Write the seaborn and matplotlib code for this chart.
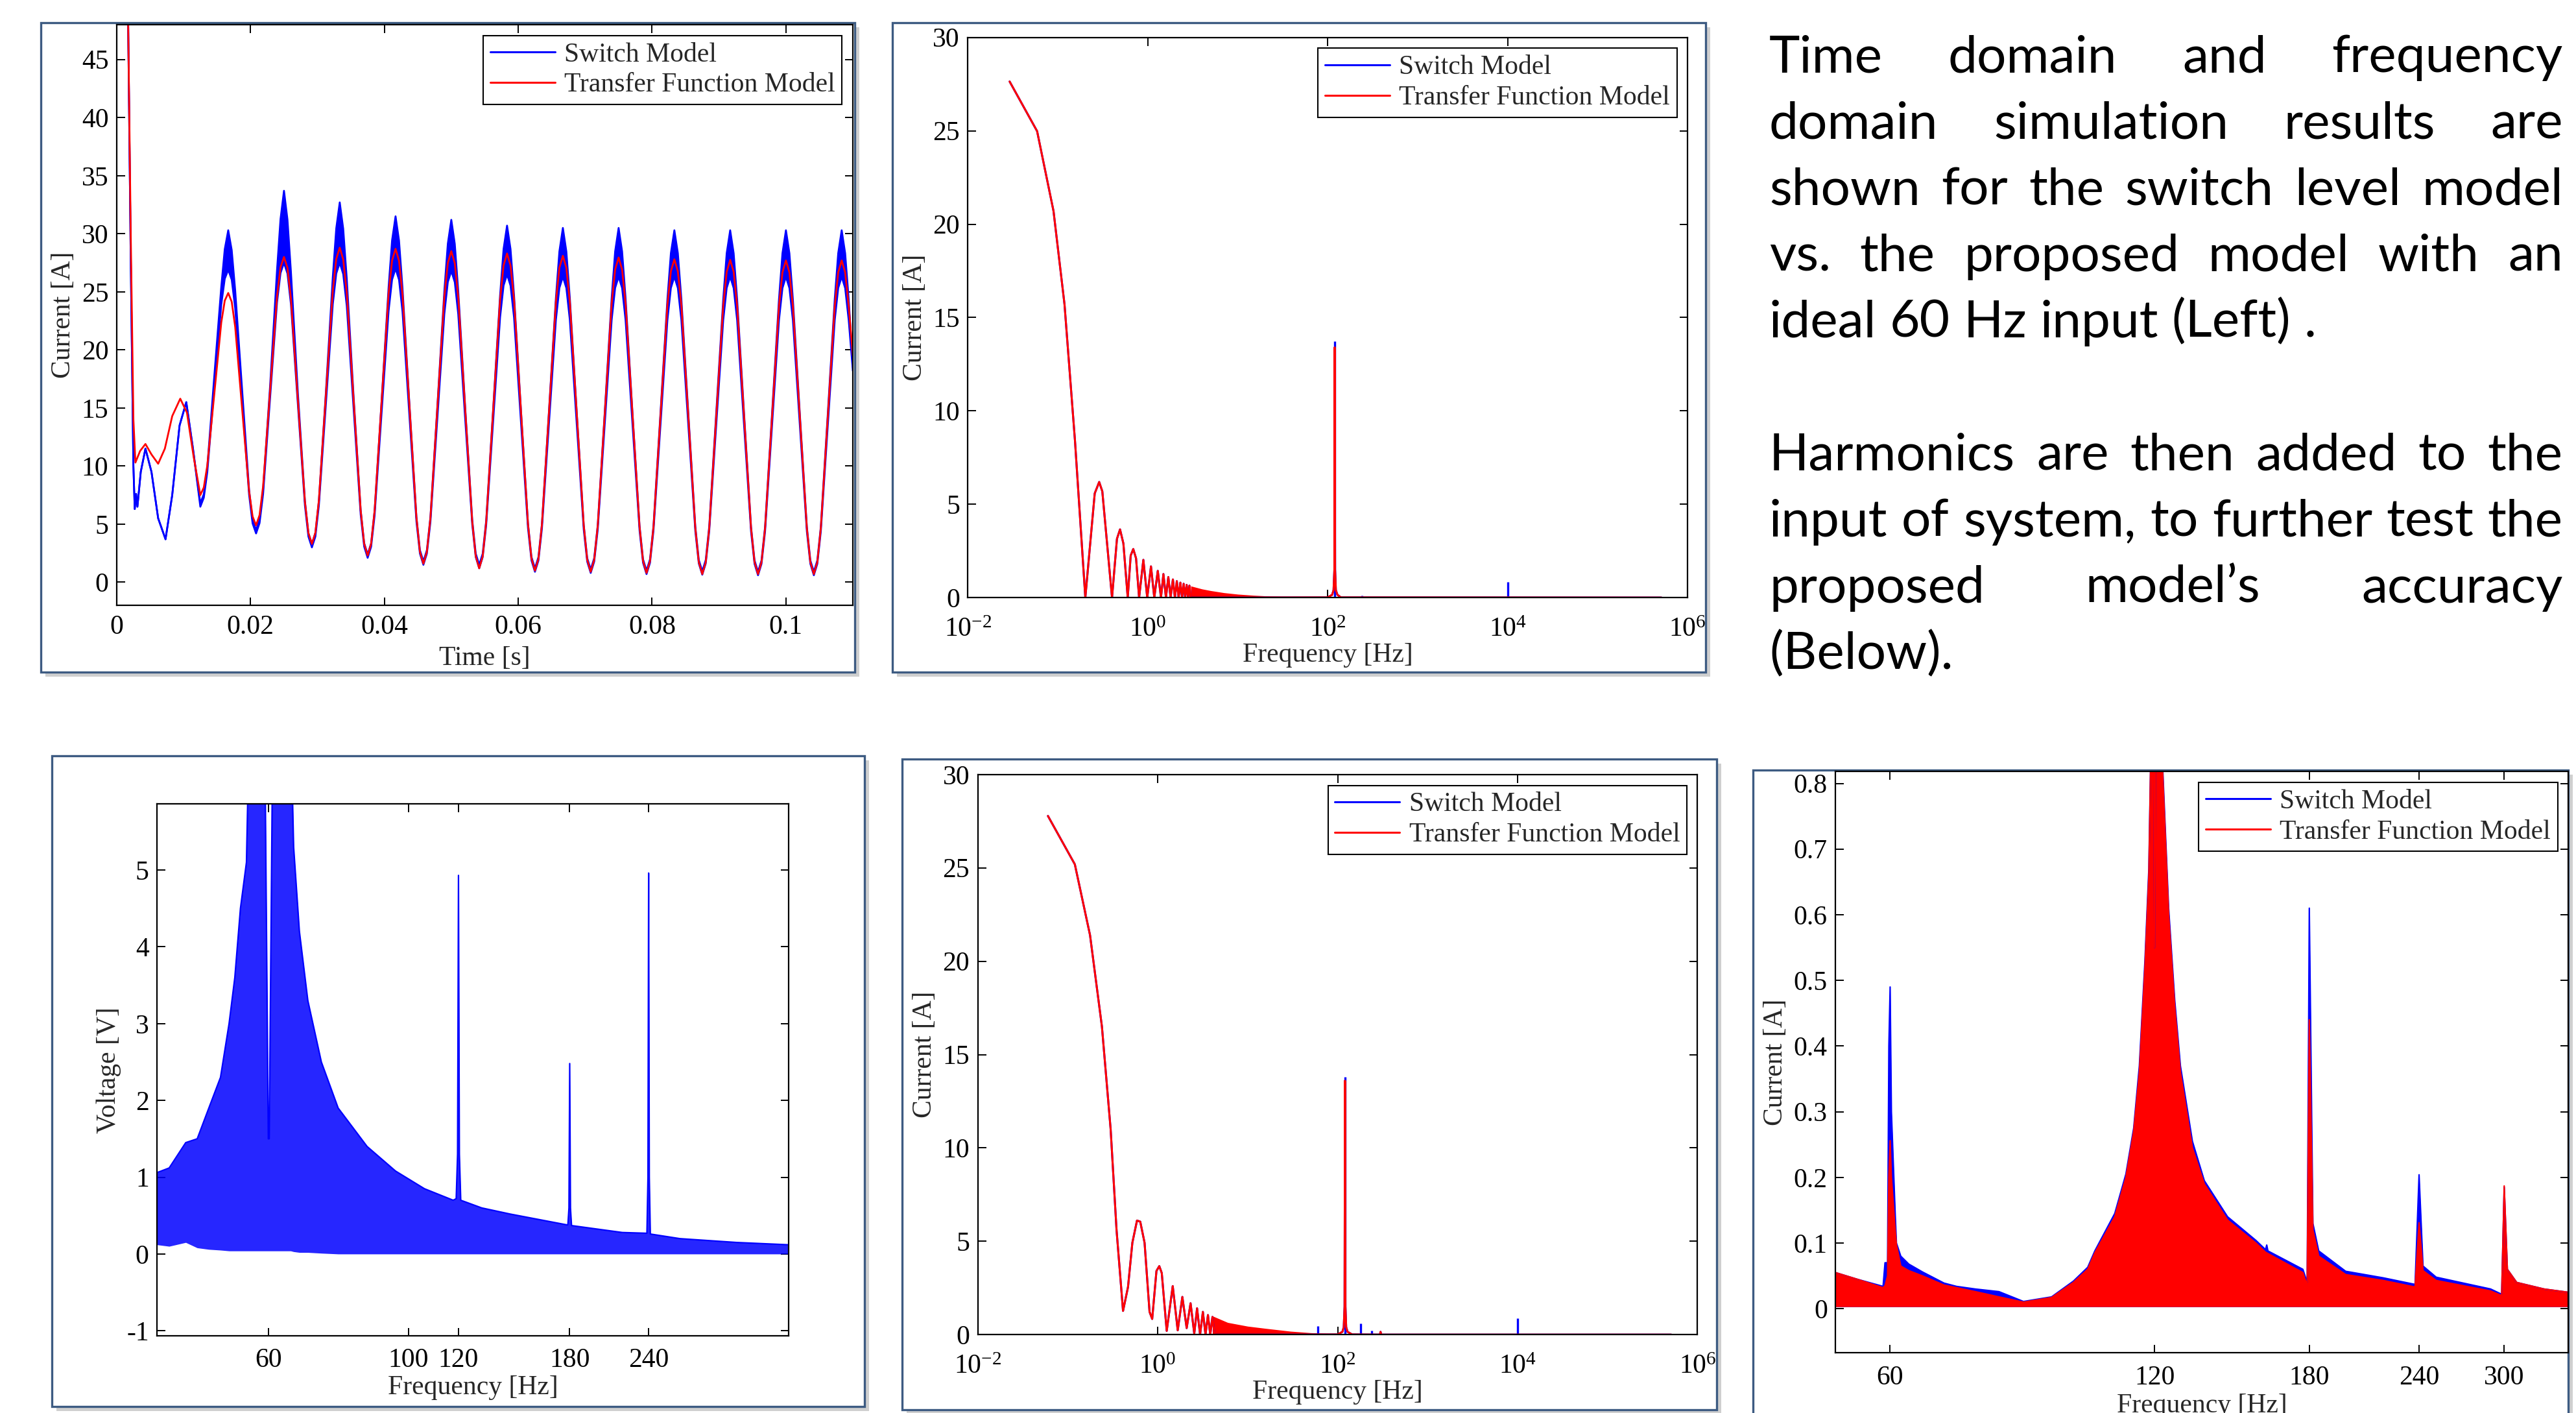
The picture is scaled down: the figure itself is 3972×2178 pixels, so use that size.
import matplotlib
matplotlib.use("Agg")
import matplotlib.pyplot as plt
import seaborn as sns
from matplotlib.patches import Rectangle
from matplotlib.lines import Line2D
from matplotlib.ticker import FixedLocator, FixedFormatter, NullLocator

sns.set_theme(style="white")
plt.rcParams["font.family"] = ["Liberation Serif", "DejaVu Serif"]
plt.rcParams["mathtext.fontset"] = "custom"
plt.rcParams["mathtext.rm"] = "Liberation Serif"
plt.rcParams["mathtext.it"] = "Liberation Serif:italic"
plt.rcParams["mathtext.bf"] = "Liberation Serif:bold"

BLUE = "#0000ff"
RED = "#ff0000"
LEG_LABELS = ["Switch Model", "Transfer Function Model"]

# ---------------- Panel A: time domain current ----------------
t_pre_red_ms = [1.7, 2.1, 2.5, 2.8, 3.5, 4.3, 5.2, 6.2, 7.2, 8.3, 9.5, 10.5, 11.5]
i_pre_red = [49, 30, 14, 10.3, 11.3, 11.9, 11.0, 10.2, 11.5, 14.3, 15.8, 14.6, 10.8]
t_pre_blue_ms = [1.7, 2.1, 2.5, 2.7, 2.9, 3.1, 3.6, 4.3, 5.2, 6.2, 7.3, 8.3, 9.4, 10.4, 11.4]
i_pre_blue = [49, 28, 10, 6.3, 7.6, 6.5, 9.5, 11.5, 9.5, 5.5, 3.7, 7.5, 13.5, 15.5, 11.5]
t_grid_ms = [12.50, 13.02, 13.54, 14.58, 15.63, 16.15, 16.67, 17.19, 17.71, 18.75, 19.79, 20.31,
             20.83, 21.35, 21.88, 22.92, 23.96, 24.48, 25.00, 25.52, 26.04, 27.08, 28.13, 28.65,
             29.17, 29.69, 30.21, 31.25, 32.29, 32.81, 33.33, 33.85, 34.38, 35.42, 36.46, 36.98,
             37.50, 38.02, 38.54, 39.58, 40.63, 41.15, 41.67, 42.19, 42.71, 43.75, 44.79, 45.31,
             45.83, 46.35, 46.88, 47.92, 48.96, 49.48, 50.00, 50.52, 51.04, 52.08, 53.13, 53.65,
             54.17, 54.69, 55.21, 56.25, 57.29, 57.81, 58.33, 58.85, 59.38, 60.42, 61.46, 61.98,
             62.50, 63.02, 63.54, 64.58, 65.63, 66.15, 66.67, 67.19, 67.71, 68.75, 69.79, 70.31,
             70.83, 71.35, 71.88, 72.92, 73.96, 74.48, 75.00, 75.52, 76.04, 77.08, 78.13, 78.65,
             79.17, 79.69, 80.21, 81.25, 82.29, 82.81, 83.33, 83.85, 84.38, 85.42, 86.46, 86.98,
             87.50, 88.02, 88.54, 89.58, 90.63, 91.15, 91.67, 92.19, 92.71, 93.75, 94.79, 95.31,
             95.83, 96.35, 96.88, 97.92, 98.96, 99.48, 100.00, 100.52, 101.04, 102.08, 103.13, 103.65,
             104.17, 104.69, 105.21, 106.25, 107.29, 107.81, 108.33, 108.85, 109.38, 110.00]
i_red_grid = [7.5, 8.16, 10.04, 16.2, 22.36, 24.24, 24.9, 24.14, 21.98, 14.9, 7.82, 5.66,
              4.9, 5.78, 8.27, 16.45, 24.62, 27.12, 28.0, 27.06, 24.39, 15.65, 6.92, 4.24,
              3.3, 4.27, 7.02, 16.05, 25.08, 27.83, 28.8, 27.79, 24.93, 15.55, 6.18, 3.31,
              2.3, 3.3, 6.15, 15.5, 24.84, 27.69, 28.7, 27.67, 24.74, 15.15, 5.57, 2.63,
              1.6, 2.62, 5.53, 15.05, 24.57, 27.48, 28.5, 27.46, 24.51, 14.85, 5.2, 2.24,
              1.2, 2.23, 5.16, 14.75, 24.34, 27.27, 28.3, 27.26, 24.31, 14.65, 5.0, 2.04,
              1.0, 2.03, 4.96, 14.55, 24.14, 27.07, 28.1, 27.07, 24.13, 14.5, 4.88, 1.93,
              0.9, 1.93, 4.85, 14.43, 24.0, 26.92, 27.95, 26.92, 23.99, 14.38, 4.77, 1.83,
              0.8, 1.83, 4.74, 14.3, 23.86, 26.77, 27.8, 26.77, 23.84, 14.25, 4.67, 1.73,
              0.7, 1.73, 4.65, 14.23, 23.8, 26.72, 27.75, 26.72, 23.8, 14.23, 4.66, 1.73,
              0.7, 1.73, 4.64, 14.2, 23.76, 26.67, 27.7, 26.67, 23.76, 14.2, 4.64, 1.73,
              0.7, 1.73, 4.64, 14.2, 23.76, 26.67, 27.7, 26.67, 23.76, 19.5]
i_blue_lo = [6.5, 7.28, 9.48, 16.7, 23.91, 26.12, 26.9, 26.04, 23.59, 15.55, 7.52, 5.06,
             4.2, 5.09, 7.6, 15.85, 24.09, 26.61, 27.5, 26.57, 23.92, 15.25, 6.59, 3.93,
             3.0, 3.93, 6.58, 15.25, 23.92, 26.57, 27.5, 26.53, 23.79, 14.8, 5.81, 3.07,
             2.1, 3.05, 5.74, 14.55, 23.35, 26.05, 27.0, 26.03, 23.28, 14.25, 5.22, 2.47,
             1.5, 2.46, 5.19, 14.15, 23.1, 25.84, 26.8, 25.83, 23.06, 14.0, 4.95, 2.17,
             1.2, 2.16, 4.89, 13.85, 22.8, 25.54, 26.5, 25.53, 22.76, 13.7, 4.65, 1.87,
             0.9, 1.87, 4.61, 13.6, 22.59, 25.33, 26.3, 25.33, 22.58, 13.55, 4.52, 1.77,
             0.8, 1.77, 4.52, 13.55, 22.58, 25.33, 26.3, 25.33, 22.56, 13.5, 4.44, 1.67,
             0.7, 1.67, 4.44, 13.5, 22.56, 25.33, 26.3, 25.33, 22.55, 13.48, 4.4, 1.62,
             0.65, 1.62, 4.4, 13.48, 22.55, 25.33, 26.3, 25.32, 22.55, 13.45, 4.35, 1.58,
             0.6, 1.58, 4.35, 13.45, 22.55, 25.32, 26.3, 25.32, 22.55, 13.45, 4.35, 1.58,
             0.6, 1.58, 4.35, 13.45, 22.55, 25.32, 26.3, 25.32, 22.55, 18.2]
i_blue_hi = [6.8, 7.58, 9.88, 17.7, 25.44, 28.67, 30.3, 28.59, 25.12, 16.55, 7.92, 5.36,
             4.5, 5.39, 8.0, 16.85, 26.88, 31.26, 33.7, 31.22, 26.71, 16.25, 6.99, 4.23,
             3.3, 4.23, 6.98, 16.25, 26.26, 30.47, 32.7, 30.43, 26.13, 15.8, 6.21, 3.37,
             2.4, 3.35, 6.14, 15.55, 25.38, 29.43, 31.5, 29.41, 25.31, 15.25, 5.62, 2.77,
             1.8, 2.76, 5.59, 15.15, 25.08, 29.14, 31.2, 29.13, 25.04, 15.0, 5.35, 2.47,
             1.5, 2.46, 5.29, 14.85, 24.69, 28.69, 30.7, 28.68, 24.65, 14.7, 5.05, 2.17,
             1.2, 2.17, 5.01, 14.6, 24.48, 28.48, 30.5, 28.48, 24.47, 14.55, 4.92, 2.07,
             1.1, 2.07, 4.92, 14.55, 24.47, 28.48, 30.5, 28.48, 24.45, 14.5, 4.84, 1.97,
             1.0, 1.97, 4.84, 14.5, 24.36, 28.33, 30.3, 28.33, 24.35, 14.48, 4.8, 1.92,
             0.95, 1.92, 4.8, 14.48, 24.35, 28.33, 30.3, 28.32, 24.35, 14.45, 4.75, 1.88,
             0.9, 1.88, 4.75, 14.45, 24.35, 28.32, 30.3, 28.32, 24.35, 14.45, 4.75, 1.88,
             0.9, 1.88, 4.75, 14.45, 24.35, 28.32, 30.3, 28.32, 24.35, 18.5]

# ---------------- Panel B: spectrum, ideal input ----------------
f2_line = [0.0291, 0.0588, 0.0895, 0.1186, 0.155, 0.202, 0.257, 0.288, 0.312, 0.400,
           0.454, 0.491, 0.535, 0.598, 0.645, 0.689, 0.74, 0.80, 0.892, 0.985,
           1.084, 1.18, 1.29, 1.40, 1.49, 1.59, 1.69, 1.79, 1.90, 2.00,
           2.10, 2.20, 2.30, 2.40, 2.50, 2.60, 2.70, 2.80, 2.90, 3.00,
           100.0, 112.0, 116.0, 118.5, 119.5, 120.5, 123.0, 128.0, 140.0, 5.1e5]
v2_line = [27.64, 24.98, 20.7, 15.7, 8.4, 0.0, 5.58, 6.19, 5.69, 0.0,
           3.15, 3.65, 2.9, 0.0, 2.25, 2.6, 2.1, 0.0, 2.02, 0.0,
           1.67, 0.0, 1.43, 0.0, 1.26, 0.0, 1.10, 0.0, 0.97, 0.0,
           0.88, 0.0, 0.80, 0.0, 0.74, 0.0, 0.68, 0.0, 0.64, 0.0,
           0.01, 0.15, 0.4, 1.5, 13.4, 1.5, 0.4, 0.15, 0.01, 0.0]
env2_f = [3.0, 4.0, 5.0, 7.0, 10.0, 15.0, 20.0, 30.0, 50.0, 80.0, 100.0]
env2_v = [0.62, 0.46, 0.37, 0.26, 0.18, 0.12, 0.09, 0.06, 0.035, 0.02, 0.012]
spk2_blue_f = [119.5, 240.0, 1.0e4, 2.0e4]
spk2_blue_v = [13.73, 0.10, 0.83, 0.04]

# ---------------- Panel C: voltage spectrum with harmonics ----------------
f4 = [40.0, 41.8, 44.4, 46.3, 48.3, 50.4, 52.0, 53.1, 54.2, 55.4,
      56.0, 59.2, 60.0, 60.2, 61.0, 65.1, 65.8, 67.2, 69.3, 72.8,
      77.4, 86.0, 95.4, 106.0, 117.7, 119.0, 119.6, 120.0, 120.4, 121.0,
      130.6, 144.9, 178.0, 178.8, 179.5, 180.0, 180.5, 181.2, 218.0, 238.5,
      239.4, 240.0, 240.6, 241.5, 269.0, 331.0, 400.0]
v4_hi = [1.06, 1.12, 1.45, 1.5, 1.9, 2.3, 3.0, 3.6, 4.5, 5.1,
         7.0, 7.0, 1.5, 1.5, 7.0, 7.0, 5.3, 4.2, 3.3, 2.5,
         1.9, 1.4, 1.08, 0.85, 0.70, 0.72, 1.3, 4.93, 1.3, 0.70,
         0.60, 0.52, 0.38, 0.38, 0.6, 2.48, 0.6, 0.37, 0.28, 0.27,
         1.0, 4.96, 1.0, 0.26, 0.20, 0.15, 0.12]
v4_lo = [0.12, 0.1, 0.15, 0.08, 0.06, 0.05, 0.04, 0.04, 0.04, 0.04,
         0.04, 0.04, 0.04, 0.04, 0.04, 0.04, 0.03, 0.02, 0.02, 0.01,
         0.0, 0.0, 0.0, 0.0, 0.0, 0.0, 0.0, 0.0, 0.0, 0.0,
         0.0, 0.0, 0.0, 0.0, 0.0, 0.0, 0.0, 0.0, 0.0, 0.0,
         0.0, 0.0, 0.0, 0.0, 0.0, 0.0, 0.0]

# ---------------- Panel D: current spectrum with harmonics (log) ----------------
f5_line = [0.0603, 0.120, 0.177, 0.24, 0.30, 0.349, 0.412, 0.468, 0.523, 0.589,
           0.64, 0.715, 0.812, 0.869, 0.969, 1.042, 1.11, 1.26, 1.47, 1.67,
           1.88, 2.10, 2.32, 2.55, 2.74, 2.96, 3.18, 3.40, 3.62, 3.84,
           4.06, 4.28, 100.0, 113.0, 117.0, 119.5, 120.8, 122.0, 124.5, 129.0,
           145.0, 295.0, 300.0, 305.0, 5.1e5]
v5_line = [27.78, 25.19, 21.4, 16.5, 11.0, 5.6, 1.27, 2.55, 4.92, 6.11,
           6.05, 4.92, 1.22, 0.84, 3.41, 3.67, 3.3, 0.2, 2.6, 0.23,
           2.02, 0.35, 1.68, 0.06, 1.41, 0.0, 1.22, 0.0, 1.05, 0.0,
           0.95, 0.0, 0.01, 0.15, 0.4, 1.5, 13.6, 1.5, 0.4, 0.15,
           0.01, 0.0, 0.15, 0.0, 0.0]
env5_f = [4.06, 6.0, 10.0, 16.0, 30.0, 50.0, 100.0]
env5_v = [1.0, 0.65, 0.45, 0.33, 0.18, 0.10, 0.04]
spk5_blue_f = [60.0, 120.8, 180.0, 240.0, 1.0e4, 2.0e4, 5.0e4]
spk5_blue_v = [0.46, 13.8, 0.6, 0.2, 0.86, 0.03, 0.02]

# ---------------- Panel E: current spectrum zoom (harmonics) ----------------
f6 = [52.0, 55.0, 58.9, 59.2, 59.6, 59.8, 60.0, 60.2, 60.8, 61.0,
      61.7, 63.0, 65.3, 69.1, 71.4, 75.0, 79.8, 85.1, 91.6, 97.0,
      100.7, 102.6, 108.1, 111.3, 113.6, 115.3, 117.0, 118.2, 119.0, 119.7,
      120.0, 120.3, 121.0, 121.9, 122.7, 124.5, 126.5, 128.4, 132.5, 136.7,
      145.3, 156.5, 160.5, 161.0, 161.5, 177.0, 179.0, 180.0, 181.7, 184.5,
      198.0, 218.5, 237.5, 240.0, 242.5, 251.0, 289.5, 298.0, 300.0, 302.5,
      310.0, 333.0, 355.0]
red6 = [0.055, 0.045, 0.032, 0.035, 0.05, 0.20, 0.256, 0.20, 0.12, 0.097,
        0.065, 0.058, 0.05, 0.036, 0.032, 0.026, 0.018, 0.010, 0.017, 0.04,
        0.06, 0.085, 0.14, 0.20, 0.27, 0.36, 0.52, 0.66, 0.9, 0.9,
        0.55, 0.9, 0.9, 0.9, 0.8, 0.6, 0.46, 0.36, 0.245, 0.19,
        0.135, 0.10, 0.086, 0.085, 0.084, 0.055, 0.035, 0.44, 0.12, 0.08,
        0.052, 0.043, 0.033, 0.131, 0.058, 0.043, 0.027, 0.020, 0.187, 0.06,
        0.04, 0.03, 0.025]
blue6 = [0.055, 0.045, 0.034, 0.07, 0.07, 0.40, 0.49, 0.30, 0.145, 0.10,
         0.08, 0.068, 0.056, 0.039, 0.034, 0.030, 0.026, 0.011, 0.018, 0.042,
         0.063, 0.088, 0.145, 0.205, 0.275, 0.37, 0.53, 0.67, 0.9, 0.9,
         0.55, 0.9, 0.9, 0.9, 0.81, 0.61, 0.47, 0.37, 0.255, 0.195,
         0.14, 0.104, 0.09, 0.097, 0.088, 0.06, 0.04, 0.61, 0.13, 0.088,
         0.057, 0.047, 0.037, 0.204, 0.065, 0.048, 0.030, 0.022, 0.185, 0.06,
         0.04, 0.03, 0.025]
floor6 = 0.003

# ---------------- Text ----------------
TEXT_LINES = [("Time domain and frequency", True),
              ("domain simulation results are", True),
              ("shown for the switch level model", True),
              ("vs. the proposed model with an", True),
              ("ideal 60 Hz input (Left) .", False),
              ("Harmonics are then added to the", True),
              ("input of system, to further test the", True),
              ("proposed model\u2019s accuracy", True),
              ("(Below).", False)]

# ================= layout =================
W, H = 3973, 2178
SW, SH = 1568.0, 860.0
fig = plt.figure(figsize=(W / 100, H / 100), dpi=100)
fig.patch.set_facecolor("white")


def fx(x):
    return x / SW


def fy(y):
    return 1 - y / SH


def add_frame(x0, y0, x1, y1):
    w = fx(x1) - fx(x0)
    h = fy(y0) - fy(y1)
    sh = Rectangle((fx(x0) + 7 / W, fy(y1) - 7 / H), w, h, transform=fig.transFigure,
                   facecolor="#cfcfcf", edgecolor="none", zorder=-3)
    fr = Rectangle((fx(x0), fy(y1)), w, h, transform=fig.transFigure,
                   facecolor="white", edgecolor="#3d5b82", lw=2.4, zorder=-2)
    fig.patches.extend([sh, fr])


def add_ax(x0, y0, x1, y1):
    return fig.add_axes([fx(x0), fy(y1), fx(x1) - fx(x0), fy(y0) - fy(y1)])


def style(ax, fs=30, xpad=9):
    ax.set_facecolor("white")
    for s in ax.spines.values():
        s.set_visible(True)
        s.set_color("black")
        s.set_linewidth(1.6)
    ax.tick_params(axis="both", which="major", direction="in", length=9, width=1.4,
                   top=True, right=True, bottom=True, left=True, labelsize=fs,
                   colors="black", pad=9)
    ax.tick_params(axis="x", which="major", pad=xpad)
    ax.tick_params(which="minor", length=0)
    ax.grid(False)


def legend(ax):
    h = [Line2D([], [], color=BLUE, lw=2.2), Line2D([], [], color=RED, lw=2.2)]
    leg = ax.legend(h, LEG_LABELS, loc="upper right", fontsize=30, frameon=True,
                    fancybox=False, framealpha=1, edgecolor="black", borderpad=0.25,
                    labelspacing=0.2, handlelength=2.4, handletextpad=0.35,
                    borderaxespad=0.4)
    leg.get_frame().set_linewidth(1.5)


def line(ax, x, y, color, lw=2.2):
    sns.lineplot(x=x, y=y, ax=ax, color=color, lw=lw, estimator=None, sort=False,
                 legend=False)


LOG_TICKS = [1e-2, 1e0, 1e2, 1e4, 1e6]
LOG_LABELS = ["10$^{-2}$", "10$^{0}$", "10$^{2}$", "10$^{4}$", "10$^{6}$"]

# ---- Panel A ----
add_frame(25, 14, 520, 409)
ax1 = add_ax(71, 15, 519, 368.5)
tb = [v / 1000 for v in t_pre_blue_ms + t_grid_ms]
tr = [v / 1000 for v in t_pre_red_ms + t_grid_ms]
blo = i_pre_blue + i_blue_lo
bhi = i_pre_blue + i_blue_hi
ax1.fill_between(tb, blo, bhi, color=BLUE, lw=0)
line(ax1, tb, blo, BLUE, 2.0)
line(ax1, tb, bhi, BLUE, 2.0)
line(ax1, tr, i_pre_red + i_red_grid, RED, 2.0)
ax1.set_xlim(0, 0.11)
ax1.set_ylim(-2, 48)
ax1.xaxis.set_major_locator(FixedLocator([0, 0.02, 0.04, 0.06, 0.08, 0.1]))
ax1.xaxis.set_major_formatter(FixedFormatter(["0", "0.02", "0.04", "0.06", "0.08", "0.1"]))
ax1.yaxis.set_major_locator(FixedLocator(list(range(0, 50, 5))))
ax1.yaxis.set_major_formatter(FixedFormatter([str(v) for v in range(0, 50, 5)]))
style(ax1, xpad=10)
ax1.set_xlabel("Time [s]", fontsize=30, labelpad=7)
ax1.set_ylabel("Current [A]", fontsize=30, labelpad=6)
legend(ax1)

# ---- Panel B ----
add_frame(543, 14, 1038, 409)
ax2 = add_ax(589, 22.8, 1027, 363.7)
ax2.set_xscale("log")
line(ax2, f2_line, v2_line, BLUE)
ax2.vlines(spk2_blue_f, 0, spk2_blue_v, color=BLUE, lw=2.4)
ax2.fill_between(env2_f, 0, env2_v, color=RED, lw=0)
line(ax2, f2_line, v2_line, RED)
ax2.set_xlim(1e-2, 1e6)
ax2.set_ylim(0, 30)
ax2.xaxis.set_major_locator(FixedLocator(LOG_TICKS))
ax2.xaxis.set_major_formatter(FixedFormatter(LOG_LABELS))
ax2.xaxis.set_minor_locator(NullLocator())
ax2.yaxis.set_major_locator(FixedLocator(list(range(0, 35, 5))))
ax2.yaxis.set_major_formatter(FixedFormatter([str(v) for v in range(0, 35, 5)]))
style(ax2, xpad=22)
ax2.set_xlabel("Frequency [Hz]", fontsize=30, labelpad=0)
ax2.set_ylabel("Current [A]", fontsize=30, labelpad=6)
legend(ax2)

# ---- Panel C ----
add_frame(31.6, 460, 526, 856)
ax4 = add_ax(95.6, 489.3, 480, 813)
ax4.set_xscale("log")
ax4.fill_between(f4, v4_lo, v4_hi, color=BLUE, lw=0, alpha=0.85)
line(ax4, f4, v4_hi, BLUE, 1.6)
ax4.set_xlim(40, 400)
ax4.set_ylim(-1.065, 5.86)
ax4.xaxis.set_major_locator(FixedLocator([60, 100, 120, 180, 240]))
ax4.xaxis.set_major_formatter(FixedFormatter(["60", "100", "120", "180", "240"]))
ax4.xaxis.set_minor_locator(NullLocator())
ax4.yaxis.set_major_locator(FixedLocator([-1, 0, 1, 2, 3, 4, 5]))
ax4.yaxis.set_major_formatter(FixedFormatter(["-1", "0", "1", "2", "3", "4", "5"]))
style(ax4, xpad=13)
ax4.set_xlabel("Frequency [Hz]", fontsize=30, labelpad=3)
ax4.set_ylabel("Voltage [V]", fontsize=30, labelpad=6)

# ---- Panel D ----
add_frame(549, 462, 1044.7, 858)
ax5 = add_ax(595, 471.4, 1033, 812.3)
ax5.set_xscale("log")
line(ax5, f5_line, v5_line, BLUE)
ax5.vlines(spk5_blue_f, 0, spk5_blue_v, color=BLUE, lw=2.4)
ax5.fill_between(env5_f, 0, env5_v, color=RED, lw=0)
line(ax5, f5_line, v5_line, RED)
ax5.set_xlim(1e-2, 1e6)
ax5.set_ylim(0, 30)
ax5.xaxis.set_major_locator(FixedLocator(LOG_TICKS))
ax5.xaxis.set_major_formatter(FixedFormatter(LOG_LABELS))
ax5.xaxis.set_minor_locator(NullLocator())
ax5.yaxis.set_major_locator(FixedLocator(list(range(0, 35, 5))))
ax5.yaxis.set_major_formatter(FixedFormatter([str(v) for v in range(0, 35, 5)]))
style(ax5, xpad=22)
ax5.set_xlabel("Frequency [Hz]", fontsize=30, labelpad=0)
ax5.set_ylabel("Current [A]", fontsize=30, labelpad=6)
legend(ax5)

# ---- Panel E ----
add_frame(1066.8, 468.8, 1563, 880)
ax6 = add_ax(1117, 469.6, 1563, 823.3)
ax6.set_xscale("log")
ax6.fill_between(f6, floor6, blue6, color=BLUE, lw=0)
line(ax6, f6, blue6, BLUE, 1.6)
ax6.fill_between(f6, floor6, red6, color=RED, lw=0)
line(ax6, f6, red6, RED, 1.6)
ax6.set_xlim(52, 355)
ax6.set_ylim(-0.067, 0.818)
ax6.xaxis.set_major_locator(FixedLocator([60, 120, 180, 240, 300]))
ax6.xaxis.set_major_formatter(FixedFormatter(["60", "120", "180", "240", "300"]))
ax6.xaxis.set_minor_locator(NullLocator())
yt6 = [0, 0.1, 0.2, 0.3, 0.4, 0.5, 0.6, 0.7, 0.8]
ax6.yaxis.set_major_locator(FixedLocator(yt6))
ax6.yaxis.set_major_formatter(FixedFormatter(["0"] + ["%.1f" % v for v in yt6[1:]]))
style(ax6, xpad=14)
ax6.set_xlabel("Frequency [Hz]", fontsize=30, labelpad=3)
ax6.set_ylabel("Current [A]", fontsize=30, labelpad=6)
legend(ax6)

# ---- Text block (justified) ----
TXT_FONT = ["Lato", "DejaVu Sans"]
renderer = fig.canvas.get_renderer()


def txt_width(s, fs):
    t = fig.text(0, 0, s, fontsize=fs, family=TXT_FONT)
    w = t.get_window_extent(renderer).width
    t.remove()
    return w


x_left = 1076.6 * W / SW
x_right = 1559.6 * W / SW
box_w = x_right - x_left
ref = txt_width("input of system, to further test the", 50)
FS = 50 * box_w / ref * 0.995
space_w = txt_width("a a", FS) - txt_width("aa", FS)
baselines = [44.0, 84.3, 124.6, 164.9, 205.2, 286.2, 326.5, 366.8, 407.1]

for (s, just), base in zip(TEXT_LINES, baselines):
    words = s.split(" ")
    widths = [txt_width(wd, FS) for wd in words]
    if just and len(words) > 1:
        gap = (box_w - sum(widths)) / (len(words) - 1)
    else:
        gap = space_w
    x = x_left
    for wd, ww in zip(words, widths):
        fig.text(x / W, fy(base), wd, fontsize=FS, family=TXT_FONT, color="black",
                 ha="left", va="baseline")
        x += ww + gap

fig.savefig("out.png", dpi=100, facecolor="white")
